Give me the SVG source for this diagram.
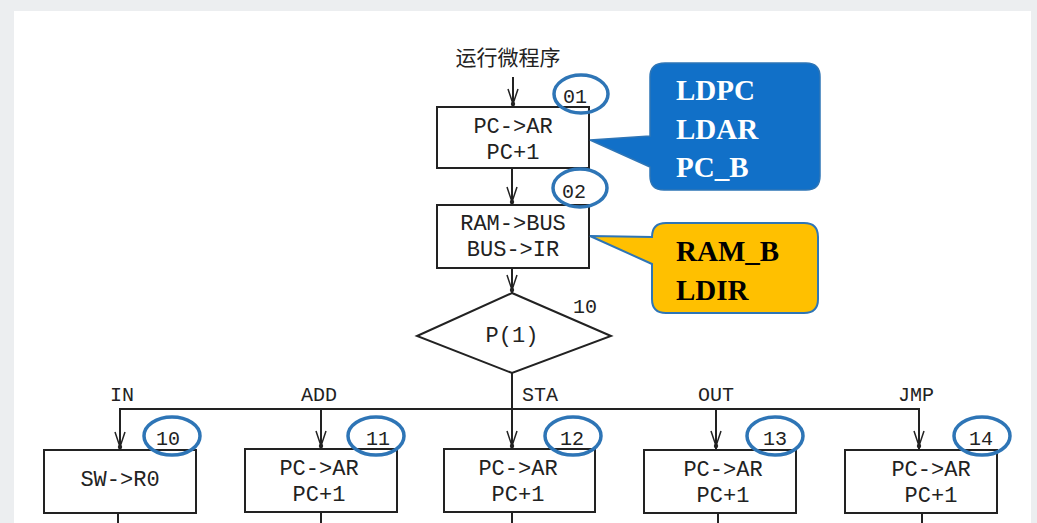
<svg xmlns="http://www.w3.org/2000/svg" xmlns:xlink="http://www.w3.org/1999/xlink" width="1037" height="523" viewBox="0 0 1037 523">
<style>
.box{fill:#fff;stroke:#222;stroke-width:2}
.ln{fill:none;stroke:#222;stroke-width:2}
.t{font-family:"Liberation Mono",monospace;font-size:22px;fill:#222;text-anchor:middle}
.lab{font-family:"Liberation Mono",monospace;font-size:20px;fill:#222}
.cn{font-family:"Noto Sans CJK SC",sans-serif;font-size:21px;fill:#222;text-anchor:middle}
.ov{fill:none;stroke:#2E75B6;stroke-width:3.5}
.cw{font-family:"Liberation Serif",serif;font-weight:bold;font-size:29px;fill:#fff}
.cb{font-family:"Liberation Serif",serif;font-weight:bold;font-size:29px;fill:#000}
</style>
<defs>
<g id="ah"><path d="M-5,-18 L0,-3 L5,-18" fill="none" stroke="#222" stroke-width="1.5"/><circle cx="0" cy="-3" r="2.2" fill="#222"/></g>
</defs>
<rect x="0" y="0" width="1037" height="523" fill="#eceef0"/>
<rect x="14" y="11" width="1017" height="512" fill="#fff"/>
<text class="cn" x="508" y="65">运行微程序</text>
<g id="connectors">
<path class="ln" d="M513,77 V107"/><use xlink:href="#ah" x="513" y="107"/>
<path class="ln" d="M512,168 V205"/><use xlink:href="#ah" x="512" y="205"/>
<path class="ln" d="M512,268 V293"/><use xlink:href="#ah" x="512" y="293"/>
<path class="ln" d="M512,373 V449"/><use xlink:href="#ah" x="512" y="449"/>
<path class="ln" d="M120,449 V409 H919 V449"/>
<path class="ln" d="M321,409 V449"/>
<path class="ln" d="M716,409 V449"/>
<use xlink:href="#ah" x="120" y="450"/>
<use xlink:href="#ah" x="321" y="449"/>
<use xlink:href="#ah" x="716" y="449"/>
<use xlink:href="#ah" x="919" y="449"/>
<path class="ln" d="M118,513 V523 M321,512 V523 M512,512 V523 M718,513 V523 M922,513 V523"/>
</g>
<g id="n01"><rect class="box" x="437" y="107" width="152" height="61"/><text class="t" x="513" y="133">PC-&gt;AR</text><text class="t" x="513" y="159">PC+1</text></g>
<g id="c01"><ellipse class="ov" cx="581" cy="94" rx="27" ry="19"/><text class="lab" x="563" y="103">01</text></g>
<g id="n02"><rect class="box" x="437" y="205" width="152" height="63"/><text class="t" x="513" y="230">RAM-&gt;BUS</text><text class="t" x="513" y="256">BUS-&gt;IR</text></g>
<g id="c02"><ellipse class="ov" cx="580" cy="188" rx="27" ry="19"/><text class="lab" x="562" y="198">02</text></g>
<g id="p1"><polygon class="box" points="512,293 611,336 512,373 417,336"/><text class="t" x="512" y="342">P(1)</text><text class="lab" x="573" y="313">10</text></g>
<text class="lab" x="110" y="401">IN</text>
<text class="lab" x="301" y="401">ADD</text>
<text class="lab" x="522" y="401">STA</text>
<text class="lab" x="698" y="401">OUT</text>
<text class="lab" x="898" y="401">JMP</text>
<g id="n10"><rect class="box" x="44" y="450" width="152" height="63"/><text class="t" x="120" y="486">SW-&gt;R0</text></g>
<g id="c10"><ellipse class="ov" cx="172" cy="436" rx="28" ry="19"/><text class="lab" x="156" y="445">10</text></g>
<g id="n11"><rect class="box" x="245" y="449" width="152" height="63"/><text class="t" x="319" y="475">PC-&gt;AR</text><text class="t" x="319" y="501">PC+1</text></g>
<g id="c11"><ellipse class="ov" cx="376" cy="436" rx="28" ry="19"/><text class="lab" x="366" y="445">11</text></g>
<g id="n12"><rect class="box" x="444" y="449" width="151" height="63"/><text class="t" x="518" y="475">PC-&gt;AR</text><text class="t" x="518" y="501">PC+1</text></g>
<g id="c12"><ellipse class="ov" cx="573" cy="436" rx="28" ry="19"/><text class="lab" x="560" y="445">12</text></g>
<g id="n13"><rect class="box" x="644" y="450" width="152" height="63"/><text class="t" x="723" y="476">PC-&gt;AR</text><text class="t" x="723" y="502">PC+1</text></g>
<g id="c13"><ellipse class="ov" cx="775" cy="436" rx="28" ry="19"/><text class="lab" x="763" y="445">13</text></g>
<g id="n14"><rect class="box" x="845" y="450" width="152" height="63"/><text class="t" x="931" y="476">PC-&gt;AR</text><text class="t" x="931" y="502">PC+1</text></g>
<g id="c14"><ellipse class="ov" cx="982" cy="436" rx="28" ry="19"/><text class="lab" x="969" y="445">14</text></g>
<g id="callout1"><path d="M665,63 H806 Q820,63 820,77 V176 Q820,190 806,190 H664 Q650,190 650,176 V167 L590,140 L650,136 V77 Q650,63 665,63 Z" fill="#1170C8" stroke="#2E75B6" stroke-width="1.5"/>
<text class="cw" x="676" y="100">LDPC</text><text class="cw" x="676" y="139">LDAR</text><text class="cw" x="676" y="177">PC_B</text></g>
<g id="callout2"><path d="M666,223 H804 Q818,223 818,237 V299 Q818,313 804,313 H666 Q652,313 652,299 V264 L590,236 L652,237 Q652,223 666,223 Z" fill="#FFC000" stroke="#2E75B6" stroke-width="2"/>
<text class="cb" x="676" y="261">RAM_B</text><text class="cb" x="676" y="300">LDIR</text></g>
</svg>
